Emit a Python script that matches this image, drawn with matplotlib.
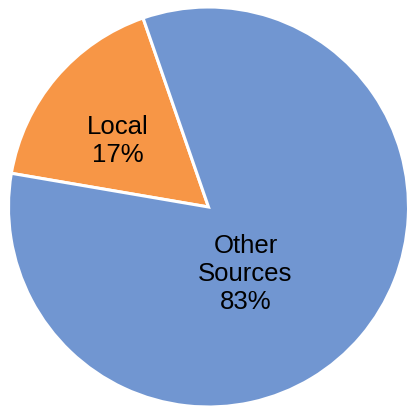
import matplotlib
matplotlib.use("Agg")
import matplotlib.pyplot as plt

categories = ["Local", "Other\nSources"]
shares = [17, 83]
colors = ["#F79646", "#7196D1"]

W, H = 407, 408
fig = plt.figure(figsize=(W / 100, H / 100), dpi=100)
ax = fig.add_axes([0, 0, 1, 1])

cx, cy, r = 208.5, H - 207, 200
wedges, _ = ax.pie(shares, colors=colors, startangle=109.1, counterclock=True,
                   center=(cx, cy), radius=r, frame=False,
                   wedgeprops=dict(edgecolor="white", linewidth=2.2))

# label positions (pixel offsets from pie centre)
label_pos = [(117.5, 141), (245.5, 274)]
for cat, val, (px, py) in zip(categories, shares, label_pos):
    ax.text(px, H - py, f"{cat}\n{val}%", ha="center", va="center",
            multialignment="center", fontsize=18.5,
            family=["Liberation Sans", "DejaVu Sans"], color="black",
            linespacing=1.22)

ax.set_xlim(0, W)
ax.set_ylim(0, H)
ax.set_aspect("equal")
ax.axis("off")
fig.savefig("out.png", dpi=100, facecolor="white")
